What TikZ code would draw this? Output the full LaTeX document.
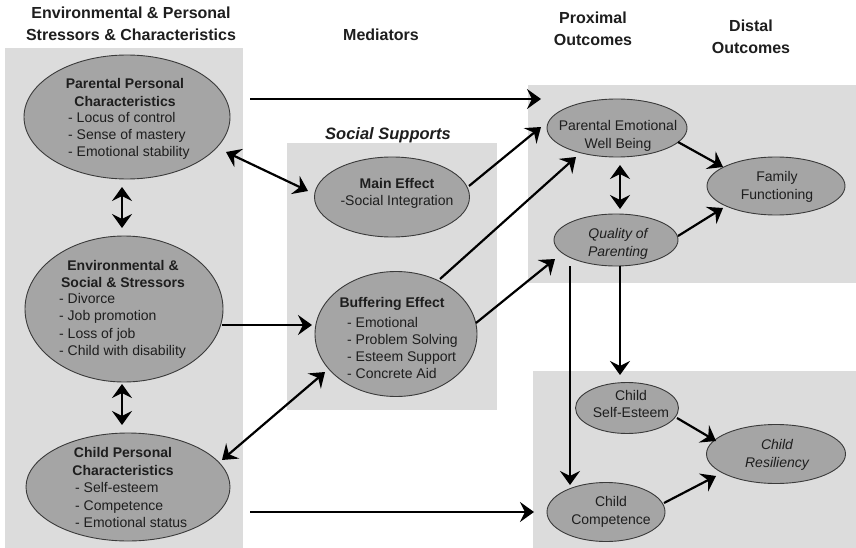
\documentclass[tikz,border=0pt]{standalone}
\usepackage{fontspec}
\setmainfont{Liberation Sans}
\usetikzlibrary{arrows.meta,shapes.geometric}
\definecolor{panelgray}{HTML}{DCDCDC}
\definecolor{ovalgray}{HTML}{A5A5A5}
\definecolor{ovalborder}{HTML}{3A3A3A}
\definecolor{inkgray}{HTML}{1E1E1E}
\begin{document}
\begin{tikzpicture}[x=1pt,y=-1pt,
  panel/.style={fill=panelgray,draw=none},
  oval/.style={ellipse,draw=ovalborder,line width=0.9pt,fill=ovalgray,inner sep=0pt},
  hdr/.style={font=\fontsize{16}{21.5}\selectfont\bfseries,align=center,text=inkgray,inner sep=0pt},
  otitle/.style={font=\fontsize{14}{17.3}\selectfont\bfseries,align=center,text=inkgray,inner sep=0pt},
  olist/.style={font=\fontsize{14}{17.3}\selectfont,align=left,text=inkgray,inner sep=0pt,anchor=west},
  otxt/.style={font=\fontsize{14}{17.3}\selectfont,align=center,text=inkgray,inner sep=0pt},
  tip/.tip={Stealth[length=14pt,width=20pt,inset=5pt]},
  arr/.style={line width=2.2pt,-tip},
  darr/.style={line width=2.2pt,tip-tip}]
\useasboundingbox (0,0) rectangle (856,548);
\fill[white] (0,0) rectangle (856,548);
% panels
\fill[panel] (5,48) rectangle (243,548);
\fill[panel] (287,143) rectangle (497,410);
\fill[panel] (528,85) rectangle (856,283);
\fill[panel] (533,371) rectangle (856,548);
% headers
\node[hdr] (h1) at (131,24) {Environmental \& Personal\\Stressors \& Characteristics};
\node[hdr] (h2) at (381,35) {Mediators};
\node[hdr] (h3) at (593,29) {Proximal\\Outcomes};
\node[hdr] (h4) at (751,37) {Distal\\Outcomes};
\node[font=\fontsize{16.5}{20}\selectfont\bfseries\itshape,text=inkgray,inner sep=0pt] (h5) at (388,135) {Social Supports};
% ellipses
\node[oval,minimum width=206pt,minimum height=124pt] (ppc) at (127,117) {};
\node[oval,minimum width=198pt,minimum height=146pt] (ess) at (124,309) {};
\node[oval,minimum width=204pt,minimum height=108pt] (cpc) at (128,487) {};
\node[oval,minimum width=155pt,minimum height=80pt] (me) at (392,197) {};
\node[oval,minimum width=162pt,minimum height=125pt] (buf) at (396,334) {};
\node[oval,minimum width=140pt,minimum height=58pt] (pewb) at (617,128) {};
\node[oval,minimum width=124pt,minimum height=52pt] (qop) at (616,240) {};
\node[oval,minimum width=138pt,minimum height=58pt] (ff) at (776,186) {};
\node[oval,minimum width=103pt,minimum height=51pt] (cse) at (627,408) {};
\node[oval,minimum width=139pt,minimum height=59pt] (cr) at (776,454) {};
\node[oval,minimum width=118pt,minimum height=59pt] (cc) at (606,512) {};
% texts
\node[otitle] (ppct) at (125,92.5) {Parental Personal\\Characteristics};
\node[olist] (ppcl) at (68,136) {- Locus of control\\- Sense of mastery\\- Emotional stability};
\node[otitle] (esst) at (123,274) {Environmental \&\\Social \& Stressors};
\node[olist] (essl) at (59,326) {- Divorce\\- Job promotion\\- Loss of job\\- Child with disability};
\node[otitle] (cpct) at (123,461.5) {Child Personal\\Characteristics};
\node[olist] (cpcl) at (75,505) {- Self-esteem\\- Competence\\- Emotional status};
\node[otxt] (met) at (397,193.5) {\textbf{Main Effect}\\-Social Integration};
\node[otitle] (buft) at (392,304) {Buffering Effect};
\node[olist] (bufl) at (347,348) {- Emotional\\- Problem Solving\\- Esteem Support\\- Concrete Aid};
\node[otxt] (pewbt) at (618,136) {Parental Emotional\\Well Being};
\node[otxt,font=\fontsize{14}{17.3}\selectfont\itshape] (qopt) at (618,244) {Quality of\\Parenting};
\node[otxt] (fft) at (777,187) {Family\\Functioning};
\node[otxt] (cset) at (631,404) {Child\\Self-Esteem};
\node[otxt,font=\fontsize{14}{17.3}\selectfont\itshape] (crt) at (777,455) {Child\\Resiliency};
\node[otxt] (cct) at (611,512) {Child\\Competence};
% connector end points
\coordinate (a1s) at (250,99);  \coordinate (a1e) at (541,99);
\coordinate (a2s) at (226,152); \coordinate (a2e) at (308,191);
\coordinate (a3s) at (122,187); \coordinate (a3e) at (122,228);
\coordinate (a4s) at (122,384); \coordinate (a4e) at (122,425);
\coordinate (a5s) at (222,325); \coordinate (a5e) at (312,325);
\coordinate (a6s) at (222,460); \coordinate (a6e) at (325,372);
\coordinate (a7s) at (250,512); \coordinate (a7e) at (534,512);
\coordinate (a8s) at (469,186); \coordinate (a8e) at (541,127);
\coordinate (a9s) at (440,279); \coordinate (a9e) at (576,157);
\coordinate (a10s) at (476,323); \coordinate (a10e) at (555,259);
\coordinate (a11s) at (620,165); \coordinate (a11e) at (620,209);
\coordinate (a12s) at (678,142); \coordinate (a12e) at (723,167);
\coordinate (a13s) at (678,236); \coordinate (a13e) at (723,208);
\coordinate (a14s) at (570,266); \coordinate (a14e) at (570,485);
\coordinate (a15s) at (620,266); \coordinate (a15e) at (620,375);
\coordinate (a16s) at (677,418); \coordinate (a16e) at (716,441);
\coordinate (a17s) at (664,503); \coordinate (a17e) at (716,476);
% connectors
\draw[arr] (a1s) -- (a1e);
\draw[darr] (a2s) -- (a2e);
\draw[darr] (a3s) -- (a3e);
\draw[darr] (a4s) -- (a4e);
\draw[arr] (a5s) -- (a5e);
\draw[darr] (a6s) -- (a6e);
\draw[arr] (a7s) -- (a7e);
\draw[arr] (a8s) -- (a8e);
\draw[arr] (a9s) -- (a9e);
\draw[arr] (a10s) -- (a10e);
\draw[darr] (a11s) -- (a11e);
\draw[arr] (a12s) -- (a12e);
\draw[arr] (a13s) -- (a13e);
\draw[arr] (a14s) -- (a14e);
\draw[arr] (a15s) -- (a15e);
\draw[arr] (a16s) -- (a16e);
\draw[arr] (a17s) -- (a17e);
\end{tikzpicture}
\end{document}
